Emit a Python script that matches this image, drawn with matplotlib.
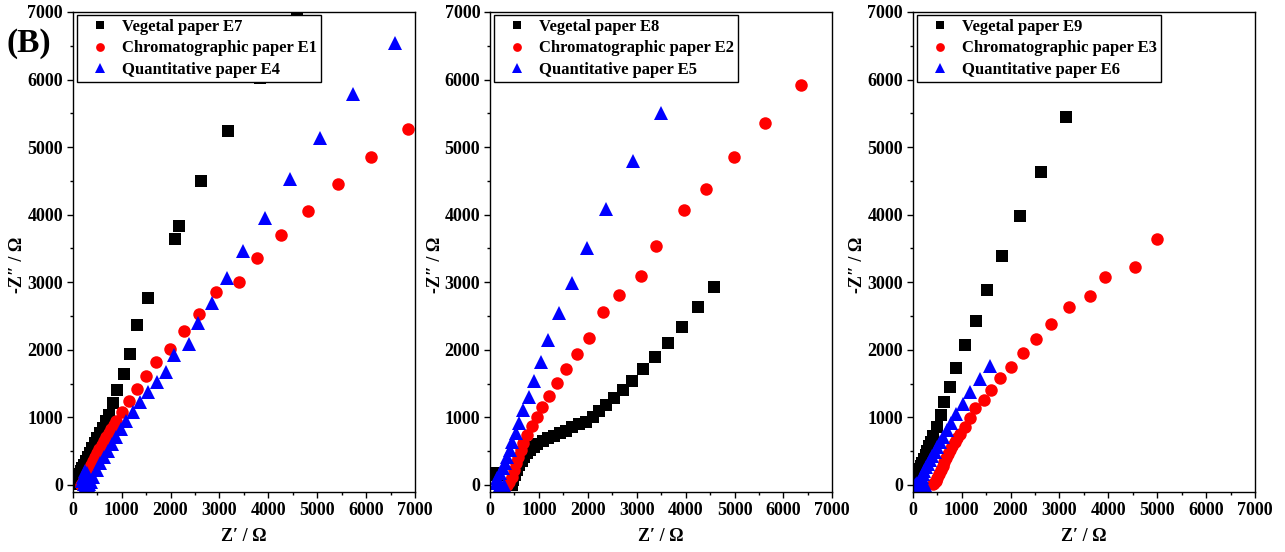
import matplotlib.pyplot as plt
from matplotlib.ticker import MultipleLocator

plt.rcParams['font.family'] = ['Liberation Serif', 'DejaVu Serif']
plt.rcParams['font.weight'] = 'bold'

# panel 1 : E7 / E1 / E4
e7_x = [4590, 3830, 3180, 2620, 2180, 2090, 1540, 1310, 1170, 1040, 910, 820, 740, 680, 620,
        560, 500, 450, 400, 350, 310, 270, 230, 200, 170, 140, 110, 90, 70, 60]
e7_y = [7000, 6020, 5240, 4500, 3840, 3640, 2770, 2370, 1940, 1640, 1400, 1210, 1035, 940, 850,
        770, 690, 620, 550, 480, 420, 360, 300, 250, 200, 160, 120, 80, 50, 20]
e1_x = [6850, 6100, 5430, 4810, 4260, 3770, 3410, 2940, 2580, 2280, 1980, 1710, 1500, 1320, 1150,
        1010, 890, 840, 790, 740, 690, 640, 590, 540, 500, 460, 420, 380, 340, 300, 270, 240,
        210, 180, 160]
e1_y = [5266, 4852, 4457, 4053, 3694, 3362, 3007, 2860, 2530, 2278, 2012, 1824, 1612, 1416, 1247,
        1084, 951, 890, 830, 770, 710, 650, 590, 530, 470, 410, 350, 290, 230, 170, 120, 80,
        45, 20, 0]
e4_x = [6600, 5740, 5050, 4440, 3930, 3480, 3150, 2840, 2570, 2370, 2080, 1910, 1720, 1550, 1380,
        1240, 1100, 990, 890, 800, 720, 630, 560, 490, 420, 370, 330, 290, 250, 220, 200, 230,
        280, 320]
e4_y = [6534, 5780, 5129, 4527, 3954, 3466, 3058, 2688, 2392, 2081, 1923, 1676, 1528, 1380, 1232,
        1084, 951, 828, 715, 607, 508, 419, 321, 222, 123, 49, 20, 170, 200, 120, 60, 20,
        0, 5]

# panel 2 : E8 / E2 / E5
e8_x = [4580, 4260, 3930, 3650, 3370, 3130, 2900, 2710, 2530, 2370, 2220, 2100, 1960, 1820, 1680,
        1550, 1430, 1310, 1190, 1080, 970, 890, 820, 750, 700, 650, 600, 560, 520, 475, 440,
        65, 150]
e8_y = [2930, 2630, 2340, 2105, 1890, 1716, 1543, 1405, 1282, 1183, 1095, 1000, 936, 902, 853,
        803, 765, 725, 690, 651, 607, 567, 518, 469, 419, 359, 296, 222, 148, 74, 0,
        175, 150]
e2_x = [6360, 5630, 4990, 4410, 3970, 3390, 3080, 2640, 2320, 2030, 1770, 1550, 1380, 1210, 1060,
        960, 850, 760, 680, 630, 580, 530, 490, 440, 395, 340]
e2_y = [5917, 5360, 4848, 4374, 4068, 3536, 3096, 2811, 2555, 2170, 1933, 1711, 1514, 1317, 1159,
        1010, 873, 740, 617, 518, 419, 321, 222, 123, 49, 0]
e5_x = [3490, 2920, 2370, 1980, 1680, 1410, 1190, 1040, 910, 790, 680, 600, 530, 460, 410,
        350, 310, 260, 200, 150, 120, 200, 290]
e5_y = [5498, 4793, 4083, 3501, 2983, 2539, 2145, 1824, 1538, 1306, 1109, 922, 774, 641, 518,
        409, 321, 247, 173, 99, 34, 0, 0]

# panel 3 : E9 / E3 / E6
e9_x = [3140, 2630, 2200, 1830, 1520, 1290, 1060, 890, 760, 650, 570, 490, 420, 380, 340,
        300, 265, 230, 200, 170, 145, 120, 100, 80, 60, 45, 35]
e9_y = [5448, 4635, 3979, 3388, 2885, 2431, 2071, 1736, 1455, 1233, 1036, 863, 725, 640, 570,
        500, 440, 380, 330, 280, 235, 190, 150, 110, 75, 40, 10]
e3_x = [4990, 4540, 3930, 3620, 3190, 2820, 2520, 2260, 2000, 1780, 1600, 1450, 1280, 1170, 1060,
        960, 910, 860, 810, 770, 730, 690, 650, 610, 570, 540, 500, 470, 440, 420]
e3_y = [3639, 3220, 3082, 2796, 2629, 2382, 2160, 1958, 1750, 1578, 1405, 1257, 1144, 986, 863,
        754, 700, 640, 580, 520, 460, 400, 340, 280, 220, 160, 110, 60, 30, 10]
e6_x = [1590, 1380, 1180, 1020, 890, 790, 700, 620, 560, 500, 450, 400, 360, 320, 280,
        240, 210, 180, 150, 120, 90, 60, 40, 150, 250]
e6_y = [1765, 1568, 1371, 1193, 1050, 922, 814, 715, 630, 560, 490, 430, 370, 310, 260,
        210, 160, 120, 80, 50, 25, 10, 0, 0, 0]

panels = [
    ([e7_x, e7_y, 'Vegetal paper E7'], [e1_x, e1_y, 'Chromatographic paper E1'],
     [e4_x, e4_y, 'Quantitative paper E4']),
    ([e8_x, e8_y, 'Vegetal paper E8'], [e2_x, e2_y, 'Chromatographic paper E2'],
     [e5_x, e5_y, 'Quantitative paper E5']),
    ([e9_x, e9_y, 'Vegetal paper E9'], [e3_x, e3_y, 'Chromatographic paper E3'],
     [e6_x, e6_y, 'Quantitative paper E6']),
]
lefts = [72.7, 490, 912.7]

W, H = 1285, 552
fig = plt.figure(figsize=(W / 100, H / 100), dpi=100)

styles = [('s', 'black', 8.3), ('o', 'red', 9.0), ('^', 'blue', 10.0)]

for left, series in zip(lefts, panels):
    ax = fig.add_axes([left / W, 1 - 492 / H, 342.3 / W, 480 / H])
    for (xs, ys, lab), (m, c, ms) in zip(series, styles):
        ax.plot(xs, ys, linestyle='none', marker=m, color=c, markersize=ms,
                markeredgewidth=0, label=lab)
    ax.set_xlim(0, 7000)
    ax.set_ylim(-104, 7000)
    ax.xaxis.set_major_locator(MultipleLocator(1000))
    ax.xaxis.set_minor_locator(MultipleLocator(500))
    ax.yaxis.set_major_locator(MultipleLocator(1000))
    ax.yaxis.set_minor_locator(MultipleLocator(500))
    ax.tick_params(which='major', direction='out', length=4, width=1, labelsize=13, pad=3)
    ax.tick_params(which='minor', direction='out', length=2.5, width=1)
    for lbl in ax.get_xticklabels() + ax.get_yticklabels():
        lbl.set_fontweight('bold')
    for sp in ax.spines.values():
        sp.set_linewidth(1.0)
    ax.set_xlabel('Z\u2032 / \u03a9', fontsize=13, fontweight='bold', labelpad=7)
    ax.set_ylabel('-Z\u2033 / \u03a9', fontsize=13, fontweight='bold', labelpad=4)
    ax.yaxis.set_label_coords(-0.135, 0.473)
    leg = ax.legend(loc='upper left', bbox_to_anchor=(0.0126, 0.9938), borderaxespad=0,
                    fontsize=12, numpoints=1, markerscale=0.7, fancybox=False,
                    framealpha=1, edgecolor='black', borderpad=0.25, handlelength=2.2,
                    handletextpad=0.24, labelspacing=0.32)
    leg.get_frame().set_linewidth(1.0)
    for t in leg.get_texts():
        t.set_fontweight('bold')

fig.text(6 / W, 1 - 52 / H, '(B)', fontsize=24, fontweight='bold', va='baseline', ha='left')

fig.savefig('out.png', dpi=100)
